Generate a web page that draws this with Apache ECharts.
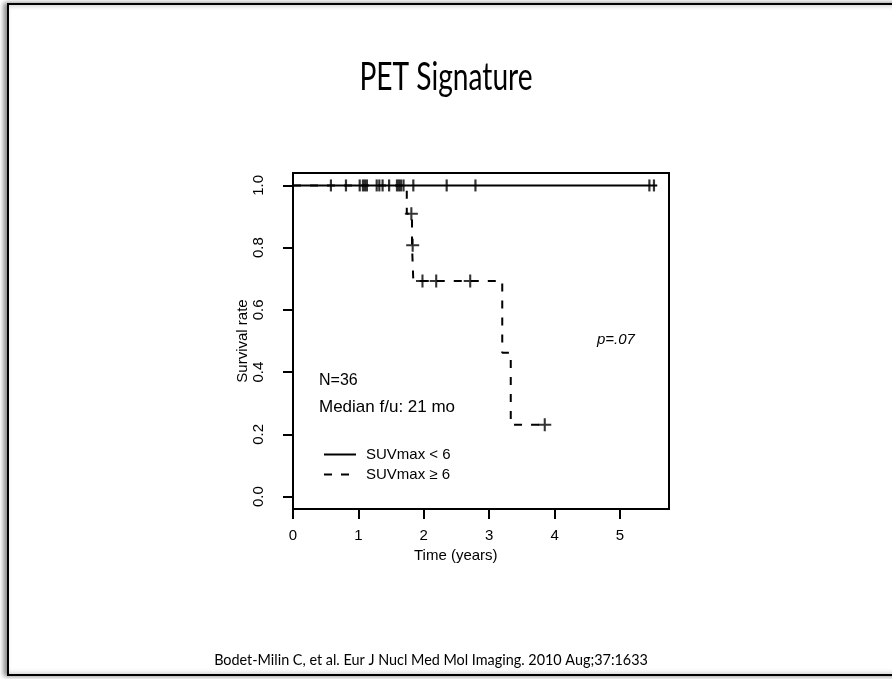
<!DOCTYPE html>
<html>
<head>
<meta charset="utf-8">
<title>PET Signature</title>
<script src="https://cdn.jsdelivr.net/npm/echarts@6/dist/echarts.min.js"></script>
<style>
  html, body { margin: 0; padding: 0; background: #ffffff; }
  #chart { width: 892px; height: 679px; }
</style>
</head>
<body>
<div id="chart"></div>
<script>
// Kaplan–Meier curves, survival by SUVmax group (time in years)
var lowStepTimes = [0, 5.57];
var lowStepSurv = [1.0, 1.0];
var lowCensorTimes = [0.58, 0.81, 1.02, 1.07, 1.10, 1.13, 1.28, 1.32, 1.37, 1.47,
                      1.59, 1.62, 1.65, 1.69, 1.84, 2.35, 2.79, 5.45, 5.52];
var lowCensorSurv = [1, 1, 1, 1, 1, 1, 1, 1, 1, 1, 1, 1, 1, 1, 1, 1, 1, 1, 1];

var highStepTimes = [0, 1.74, 1.82, 1.84, 3.20, 3.33, 3.85];
var highStepSurv = [1.0, 0.909, 0.808, 0.693, 0.462, 0.231, 0.231];
var highCensorTimes = [1.81, 1.83, 1.98, 2.19, 2.71, 3.85];
var highCensorSurv = [0.909, 0.808, 0.693, 0.693, 0.693, 0.231];

var xTicks = [0, 1, 2, 3, 4, 5];
var yTicks = [0, 0.2, 0.4, 0.6, 0.8, 1.0];
var seriesNames = ['SUVmax < 6', 'SUVmax \u2265 6'];

function pairs(xs, ys) {
  return xs.map(function (x, i) { return [x, ys[i]]; });
}

var plotFont = '"Liberation Sans", Arial, sans-serif';
var slideFont = 'Lato, "Open Sans", sans-serif';
var plusPath = 'path://M4.2,0H5.8V4.2H10V5.8H5.8V10H4.2V5.8H0V4.2H4.2Z';

var chart = echarts.init(document.getElementById('chart'), null, { renderer: 'canvas' });

chart.setOption({
  backgroundColor: '#ffffff',
  animation: false,
  graphic: [
    {
      type: 'rect', silent: true, z: -1,
      shape: { x: 8, y: 4, width: 900, height: 671 },
      style: { fill: '#ffffff', stroke: '#000000', lineWidth: 2,
               shadowColor: 'rgba(0,0,0,0.45)', shadowBlur: 5, shadowOffsetX: -3 }
    },
    {
      type: 'text', x: 446, y: 78, scaleX: 0.74,
      style: { text: 'PET Signature', font: '38px ' + slideFont, fill: '#000000',
               textAlign: 'center', textVerticalAlign: 'middle' }
    },
    {
      type: 'text', x: 431, y: 660,
      style: { text: 'Bodet-Milin C, et al. Eur J Nucl Med Mol Imaging. 2010 Aug;37:1633',
               font: '14.4px ' + slideFont, fill: '#000000',
               textAlign: 'center', textVerticalAlign: 'middle' }
    },
    {
      type: 'text', left: 319, top: 373,
      style: { text: 'N=36', font: '16px ' + plotFont, fill: '#000000' }
    },
    {
      type: 'text', left: 319, top: 399,
      style: { text: 'Median f/u: 21 mo', font: '17px ' + plotFont, fill: '#000000' }
    },
    {
      type: 'text', left: 597, top: 332,
      style: { text: 'p=.07', font: 'italic 15px ' + plotFont, fill: '#000000' }
    },
    {
      type: 'text', left: 414, top: 548,
      style: { text: 'Time (years)', font: '15px ' + plotFont, fill: '#000000' }
    }
  ],
  legend: {
    orient: 'vertical',
    left: 318,
    top: 442,
    itemWidth: 32,
    itemHeight: 10,
    itemGap: 5,
    data: seriesNames,
    itemStyle: { opacity: 0 },
    textStyle: { fontFamily: plotFont, fontSize: 15, color: '#000000', padding: [0, 0, 0, 5] },
    selectedMode: false
  },
  grid: {
    left: 293, right: 223, top: 173, bottom: 170,
    show: true, borderColor: '#000000', borderWidth: 2, backgroundColor: 'transparent',
    containLabel: false
  },
  xAxis: {
    type: 'value', min: 0, max: 5.75,
    axisLine: { show: true, onZero: false, lineStyle: { color: '#000000', width: 2 } },
    axisTick: { show: true, length: 10, lineStyle: { color: '#000000', width: 2 },
                customValues: xTicks },
    axisLabel: { color: '#000000', fontFamily: plotFont, fontSize: 15, margin: 19,
                 customValues: xTicks },
    splitLine: { show: false }
  },
  yAxis: {
    type: 'value', min: -0.04, max: 1.04,
    name: 'Survival rate', nameLocation: 'middle', nameGap: 40,
    nameTextStyle: { color: '#000000', fontFamily: plotFont, fontSize: 15 },
    axisLine: { show: true, onZero: false, lineStyle: { color: '#000000', width: 2 } },
    axisTick: { show: true, length: 10, lineStyle: { color: '#000000', width: 2 },
                customValues: yTicks },
    axisLabel: { color: '#000000', fontFamily: plotFont, fontSize: 15, margin: 27,
                 rotate: 90, customValues: yTicks,
                 formatter: function (v) { return v.toFixed(1); } },
    splitLine: { show: false }
  },
  series: [
    {
      name: seriesNames[0], type: 'line', step: 'end', symbol: 'none',
      data: pairs(lowStepTimes, lowStepSurv),
      lineStyle: { color: '#000000', width: 2, type: 'solid' },
      itemStyle: { color: '#000000' }
    },
    {
      name: seriesNames[1], type: 'line', step: 'end', symbol: 'none',
      data: pairs(highStepTimes, highStepSurv),
      lineStyle: { color: '#000000', width: 2, type: [8, 9] },
      itemStyle: { color: '#000000' }
    },
    {
      name: 'censor-low', type: 'scatter', symbol: 'rect', symbolSize: [2.2, 12],
      data: pairs(lowCensorTimes, lowCensorSurv),
      itemStyle: { color: '#000000' }, z: 3
    },
    {
      name: 'censor-high', type: 'scatter', symbol: plusPath, symbolSize: 13,
      data: pairs(highCensorTimes, highCensorSurv),
      itemStyle: { color: '#000000' }, z: 3
    }
  ]
});
</script>
</body>
</html>
